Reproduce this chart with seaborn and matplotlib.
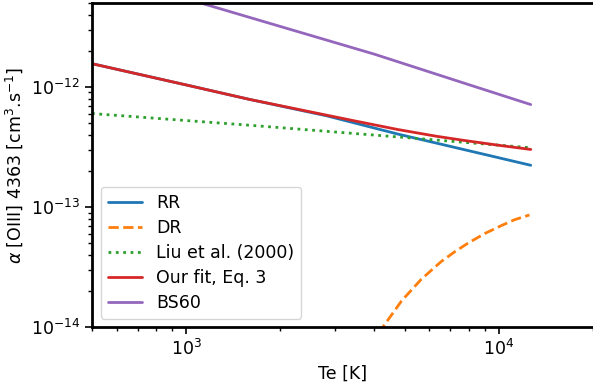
import numpy as np
import pandas as pd
import matplotlib
matplotlib.use("Agg")
import matplotlib.pyplot as plt
import matplotlib.ticker as mticker
import seaborn as sns

# Data (Te in K, alpha in cm^3 s^-1)
te_rr = [500, 1000, 1585, 2818, 4764, 7745, 12647]
rr = [1.563e-12, 1.04e-12, 7.91e-13, 5.75e-13, 4.05e-13, 3.01e-13, 2.23e-13]

te_dr = [3500, 4000, 4276, 4887, 5649, 6546, 7244, 7962, 9016, 10160, 11220, 12530]
dr = [4.3e-15, 7.8e-15, 1.02e-14, 1.66e-14, 2.51e-14, 3.53e-14, 4.27e-14, 5.01e-14,
      6.03e-14, 7.0e-14, 7.85e-14, 8.61e-14]

te_liu = [500, 1585, 5129, 12647]
liu = [6.01e-13, 4.81e-13, 3.78e-13, 3.12e-13]

te_fit = [500, 1000, 1585, 2818, 3548, 4764, 6310, 7745, 10000, 12647]
fit = [1.563e-12, 1.04e-12, 7.91e-13, 5.82e-13, 5.15e-13, 4.42e-13, 3.89e-13,
       3.59e-13, 3.27e-13, 3.02e-13]

te_bs = [500, 1000, 2000, 4000, 8000, 12647]
bs60 = [9.1e-12, 5.43e-12, 3.19e-12, 1.875e-12, 1.047e-12, 7.14e-13]

labels = ["RR", "DR", "Liu et al. (2000)", "Our fit, Eq. 3", "BS60"]
xticks = [1e3, 1e4]
yticks = [1e-14, 1e-13, 1e-12]

sns.set_style("ticks")
plt.rcParams['font.family'] = ['DejaVu Sans']
plt.rcParams['text.color'] = 'black'
plt.rcParams['axes.labelcolor'] = 'black'
plt.rcParams['xtick.color'] = 'black'
plt.rcParams['ytick.color'] = 'black'
fs = 12.5

fig = plt.figure(figsize=(5.93, 3.84), dpi=100)
ax = fig.add_axes([0.1551, 0.1477, 0.8449, 0.8445])

pal = sns.color_palette("tab10")
series = [
    (te_rr, rr, labels[0], pal[0], "-"),
    (te_dr, dr, labels[1], pal[1], "--"),
    (te_liu, liu, labels[2], pal[2], ":"),
    (te_fit, fit, labels[3], pal[3], "-"),
    (te_bs, bs60, labels[4], pal[4], "-"),
]
for x, y, lab, c, ls in series:
    df = pd.DataFrame({"Te": x, "alpha": y})
    sns.lineplot(data=df, x="Te", y="alpha", ax=ax, color=c, linestyle=ls,
                 linewidth=2, label=lab, sort=False)

ax.set_xscale("log")
ax.set_yscale("log")
ax.set_xlim(500, 20000)
ax.set_ylim(1e-14, 5e-12)
ax.xaxis.set_major_locator(mticker.FixedLocator(xticks))
ax.yaxis.set_major_locator(mticker.FixedLocator(yticks))
ax.xaxis.set_major_formatter(mticker.LogFormatterSciNotation())
ax.yaxis.set_major_formatter(mticker.LogFormatterSciNotation())
ax.xaxis.set_minor_locator(mticker.LogLocator(base=10, subs=np.arange(2, 10), numticks=20))
ax.yaxis.set_minor_locator(mticker.LogLocator(base=10, subs=np.arange(2, 10), numticks=20))
ax.xaxis.set_minor_formatter(mticker.NullFormatter())
ax.yaxis.set_minor_formatter(mticker.NullFormatter())
ax.set_xlabel("Te [K]", fontsize=fs)
ax.set_ylabel(r"$\alpha$ [OIII] 4363 [cm$^3$.s$^{-1}$]", fontsize=fs)
ax.spines["right"].set_visible(False)
for s in ["left", "top", "bottom"]:
    ax.spines[s].set_linewidth(2)
    ax.spines[s].set_color("black")
ax.tick_params(axis="both", which="major", labelsize=fs, direction="out", length=5, width=1.2)
ax.tick_params(axis="both", which="minor", direction="out", length=3, width=1)
ax.legend(loc="lower left", fontsize=fs, frameon=True, labelspacing=0.4)

fig.savefig("out.png", dpi=100)
